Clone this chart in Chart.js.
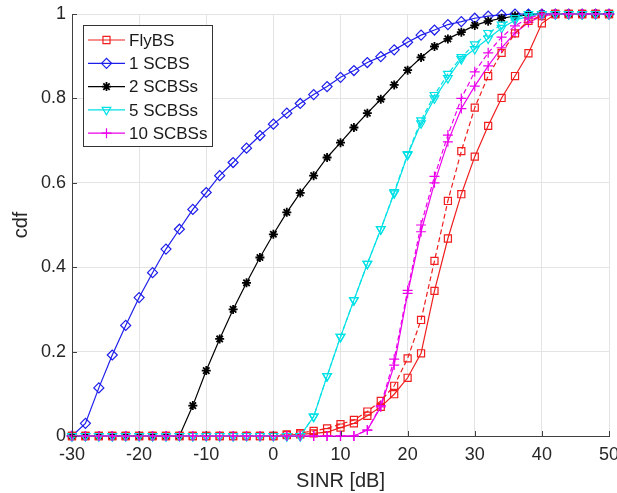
<!DOCTYPE html>
<html>
<head>
<meta charset="utf-8">
<script src="https://cdn.jsdelivr.net/npm/chart.js@4.4.1/dist/chart.umd.min.js"></script>
<style>
  html, body { margin: 0; padding: 0; background: #fff; }
  #wrap { width: 617px; height: 493px; }
</style>
</head>
<body>
<div id="wrap"><canvas id="cdfChart" width="617" height="493"></canvas></div>
<script>
// SINR samples [dB], one per marker
const sinr = [-30, -28, -26, -24, -22, -20, -18, -16, -14, -12, -10, -8, -6, -4, -2, 0, 2, 4, 6, 8, 10,
              12, 14, 16, 18, 20, 22, 24, 26, 28, 30, 32, 34, 36, 38, 40, 42, 44, 46, 48, 50];

// cdf values
const flyBS = [0, 0, 0, 0, 0, 0, 0, 0, 0, 0, 0, 0, 0, 0, 0, 0, 0.002, 0.004,
               0.006, 0.009, 0.020, 0.030, 0.048, 0.069, 0.099, 0.138, 0.196, 0.344, 0.468, 0.573, 0.662, 0.735, 0.801, 0.853, 0.907, 0.978,
               1, 1, 1, 1, 1];
const flyBSDashed = [0, 0, 0, 0, 0, 0, 0, 0, 0, 0, 0, 0, 0, 0, 0, 0,
                     0.004, 0.007, 0.012, 0.018, 0.028, 0.038, 0.058, 0.083, 0.119, 0.184, 0.275, 0.415, 0.557, 0.675, 0.778, 0.853, 0.908, 0.954, 0.984, 0.996,
                     1, 1, 1, 1, 1];
const scbs1 = [0, 0.030, 0.114, 0.192, 0.262, 0.328, 0.387, 0.443, 0.490, 0.537, 0.577, 0.617, 0.648, 0.682, 0.712, 0.739, 0.765,
               0.788, 0.809, 0.828, 0.850, 0.866, 0.885, 0.899, 0.915, 0.933, 0.950, 0.962, 0.975, 0.982, 0.990, 0.995, 0.998,
               1, 1, 1, 1, 1, 1, 1, 1];
const scbs2 = [0, 0, 0, 0, 0, 0, 0, 0, 0,
               0.072, 0.155, 0.230, 0.300, 0.363, 0.423, 0.478, 0.530, 0.576, 0.617, 0.660, 0.695, 0.731, 0.765, 0.798, 0.832,
               0.867, 0.897, 0.923, 0.941, 0.957, 0.973, 0.983, 0.990, 0.995, 0.998,
               1, 1, 1, 1, 1, 1];
const scbs5 = [0, 0, 0, 0, 0, 0, 0, 0, 0, 0, 0, 0, 0, 0, 0, 0, 0, 0,
               0.046, 0.142, 0.235, 0.322, 0.408, 0.490, 0.575, 0.666, 0.741, 0.800, 0.848, 0.893, 0.917, 0.942, 0.967, 0.985, 0.995,
               1, 1, 1, 1, 1, 1];
const scbs5Dashed = [0, 0, 0, 0, 0, 0, 0, 0, 0, 0, 0, 0, 0, 0, 0, 0, 0, 0,
                     0.046, 0.142, 0.235, 0.322, 0.408, 0.490, 0.578, 0.668, 0.748, 0.808, 0.858, 0.898, 0.928, 0.955, 0.975, 0.990, 1,
                     1, 1, 1, 1, 1, 1];
const scbs10 = [0, 0, 0, 0, 0, 0, 0, 0, 0, 0, 0, 0, 0, 0, 0, 0, 0, 0, 0, 0, 0, 0,
                0.014, 0.069, 0.168, 0.338, 0.484, 0.600, 0.697, 0.776, 0.829, 0.877, 0.920, 0.955, 0.980, 0.995,
                1, 1, 1, 1, 1];
const scbs10Dashed = [0, 0, 0, 0, 0, 0, 0, 0, 0, 0, 0, 0, 0, 0, 0, 0, 0, 0, 0, 0, 0, 0,
                      0.014, 0.072, 0.182, 0.345, 0.500, 0.615, 0.713, 0.800, 0.863, 0.908, 0.945, 0.972, 0.990, 1,
                      1, 1, 1, 1, 1];

const xTicks = [-30, -20, -10, 0, 10, 20, 30, 40, 50];
const yTicks = [0, 0.2, 0.4, 0.6, 0.8, 1];

const RED = "rgb(240, 30, 30)";
const BLUE = "rgb(30, 30, 235)";
const BLACK = "rgb(0, 0, 0)";
const CYAN = "rgb(0, 225, 230)";
const MAGENTA = "rgb(235, 0, 235)";

function toPoints(vals) {
    return sinr.map((x, i) => ({ x: x, y: vals[i] }));
}

function series(label, vals, color, style, radius, extra) {
    return Object.assign({
        label: label,
        data: toPoints(vals),
        borderColor: color,
        backgroundColor: color,
        borderWidth: 1.2,
        pointStyle: style,
        pointRadius: radius,
        pointHoverRadius: radius,
        pointBorderColor: color,
        pointBackgroundColor: "rgba(0,0,0,0)",
        pointBorderWidth: 1.2,
        tension: 0,
        clip: false
    }, extra || {});
}

const datasets = [
    series("FlyBS", flyBS, RED, "rect", 5),
    series("1 SCBS", scbs1, BLUE, "rectRot", 5),
    series("2 SCBSs", scbs2, BLACK, "star", 4.5, { pointBorderWidth: 1.8 }),
    series("5 SCBSs", scbs5, CYAN, "triangle", 5, { pointRotation: 180 }),
    series("10 SCBSs", scbs10, MAGENTA, "cross", 5),
    series("", flyBSDashed, RED, "rect", 5, { borderDash: [5, 3] }),
    series("", scbs5Dashed, CYAN, "triangle", 5, { pointRotation: 180, borderDash: [5, 3] }),
    series("", scbs10Dashed, MAGENTA, "cross", 5, { borderDash: [5, 3] })
];
// later series on top, like the original plot
datasets.forEach((d, i) => { d.order = datasets.length - i; });

// MATLAB-style inward tick marks
const inwardTicks = {
    id: "inwardTicks",
    afterDraw(chart) {
        const ctx = chart.ctx;
        const xs = chart.scales.x, ys = chart.scales.y;
        const area = chart.chartArea;
        ctx.save();
        ctx.strokeStyle = "#404040";
        ctx.lineWidth = 1;
        ctx.beginPath();
        xTicks.forEach(v => {
            const px = Math.round(xs.getPixelForValue(v)) + 0.5;
            ctx.moveTo(px, area.bottom);
            ctx.lineTo(px, area.bottom - 5);
        });
        yTicks.forEach(v => {
            const py = Math.round(ys.getPixelForValue(v)) + 0.5;
            ctx.moveTo(area.left, py);
            ctx.lineTo(area.left + 5, py);
        });
        ctx.stroke();
        ctx.restore();
    }
};

// boxed legend in the upper-left corner of the axes
const boxLegend = {
    id: "boxLegend",
    afterDraw(chart) {
        const ctx = chart.ctx;
        const items = chart.data.datasets.filter(d => d.label);
        const left = 83, top = 25, w = 129, h = 121;
        ctx.save();
        ctx.fillStyle = "#fff";
        ctx.fillRect(left, top, w, h);
        ctx.strokeStyle = "#333";
        ctx.lineWidth = 1;
        ctx.strokeRect(left + 0.5, top + 0.5, w, h);
        items.forEach((d, i) => {
            const y = 40 + i * 23.3;
            ctx.strokeStyle = d.borderColor;
            ctx.lineWidth = d.borderWidth;
            ctx.setLineDash([]);
            ctx.beginPath();
            ctx.moveTo(88, y);
            ctx.lineTo(125, y);
            ctx.stroke();
            ctx.fillStyle = "rgba(0,0,0,0)";
            ctx.strokeStyle = d.borderColor;
            ctx.lineWidth = d.pointBorderWidth;
            Chart.helpers.drawPoint(ctx, {
                pointStyle: d.pointStyle,
                radius: d.pointRadius,
                rotation: d.pointRotation || 0,
                borderWidth: d.pointBorderWidth
            }, 106.5, y);
            ctx.fillStyle = "#1a1a1a";
            ctx.font = "17px 'Liberation Sans', Arial, sans-serif";
            ctx.textBaseline = "middle";
            ctx.textAlign = "left";
            ctx.fillText(d.label, 129, y + 1);
        });
        ctx.restore();
    }
};

const tickFont = { family: "'Liberation Sans', Arial, sans-serif", size: 18 };
const titleFont = { family: "'Liberation Sans', Arial, sans-serif", size: 20 };

new Chart(document.getElementById("cdfChart").getContext("2d"), {
    type: "line",
    data: { datasets: datasets },
    options: {
        responsive: false,
        animation: false,
        events: [],
        layout: { padding: { left: 0, right: 8, top: 14, bottom: 0 } },
        plugins: {
            legend: { display: false },
            tooltip: { enabled: false }
        },
        scales: {
            x: {
                type: "linear",
                min: -30,
                max: 50,
                afterBuildTicks: s => { s.ticks = xTicks.map(v => ({ value: v })); },
                afterFit: s => { s.height = 57; s.paddingLeft = 0; s.paddingRight = 0; },
                grid: { color: "#e4e4e4", drawTicks: false },
                border: { color: "#404040" },
                ticks: { font: tickFont, color: "#262626", padding: 8, maxRotation: 0 },
                title: { display: true, text: "SINR [dB]", font: titleFont, color: "#262626", padding: { top: 0, bottom: 0 } }
            },
            y: {
                type: "linear",
                min: 0,
                max: 1,
                afterBuildTicks: s => { s.ticks = yTicks.map(v => ({ value: v })); },
                afterFit: s => { s.width = 72; s.paddingTop = 0; s.paddingBottom = 0; },
                grid: { color: "#e4e4e4", drawTicks: false },
                border: { color: "#404040" },
                ticks: {
                    font: tickFont,
                    color: "#262626",
                    padding: 6,
                    callback: v => String(+v.toFixed(1))
                },
                title: { display: true, text: "cdf", font: titleFont, color: "#262626", padding: { top: 9, bottom: 0 } }
            }
        }
    },
    plugins: [inwardTicks, boxLegend]
});
</script>
</body>
</html>
